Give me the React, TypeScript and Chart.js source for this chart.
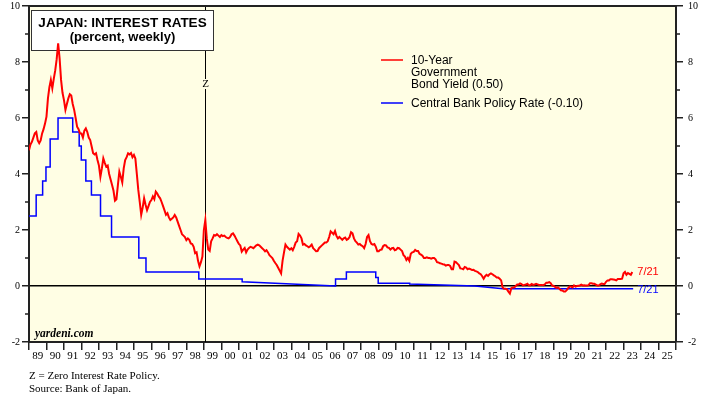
import React, { useEffect, useRef } from 'react';
import { Chart, registerables } from 'chart.js';

Chart.register(...registerables);

// ---------- data ----------
const yearLabels = ['89','90','91','92','93','94','95','96','97','98','99','00','01','02','03','04','05','06','07','08','09','10','11','12','13','14','15','16','17','18','19','20','21','22','23','24','25'];
const firstYear = 1989;
const lastYearEdge = 2026;
const minorTickValues = [-1, 1, 3, 5, 7, 9];

// 10-year JGB yield, monthly readings starting Jan 1989
const bondStartYear = 1989;
const bondYields = [
  4.85,5.05,5.15,5.3,5.45,5.5,5.2,5.1,5.2,5.45,5.6,5.8,      // 1989
  6.05,6.7,7.1,7.36,7.06,7.4,7.7,8.1,8.67,8.13,7.36,6.9,     // 1990
  6.64,6.29,6.5,6.7,6.85,6.8,6.5,6.29,6.0,5.69,5.6,5.45,     // 1991
  5.45,5.3,5.55,5.63,5.5,5.3,5.21,4.98,4.74,4.7,4.74,4.5,    // 1992
  4.3,3.9,4.2,4.56,4.4,4.26,4.3,4.0,3.8,3.61,3.4,3.05,       // 1993
  3.1,3.6,4.08,3.9,3.7,4.2,4.5,4.6,4.74,4.7,4.75,4.6,        // 1994
  4.68,4.55,4.0,3.43,3.0,2.54,2.8,3.13,2.9,2.71,2.85,3.0,    // 1995
  3.07,3.2,3.1,3.37,3.3,3.2,3.13,3.0,2.85,2.7,2.54,2.6,      // 1996
  2.45,2.36,2.4,2.45,2.54,2.45,2.3,2.15,2.0,1.85,1.8,1.75,   // 1997
  1.64,1.7,1.65,1.52,1.5,1.4,1.17,1.2,0.9,0.7,0.85,1.05,     // 1998
  2.0,2.36,1.7,1.3,1.25,1.6,1.7,1.82,1.8,1.85,1.8,1.75,      // 1999
  1.82,1.78,1.8,1.75,1.72,1.7,1.75,1.85,1.88,1.8,1.7,1.6,    // 2000
  1.5,1.45,1.23,1.3,1.36,1.2,1.3,1.36,1.4,1.38,1.35,1.4,     // 2001
  1.45,1.48,1.45,1.4,1.35,1.3,1.24,1.28,1.2,1.1,1.05,1.0,    // 2002
  0.9,0.82,0.75,0.65,0.55,0.45,0.9,1.2,1.48,1.4,1.35,1.3,    // 2003
  1.35,1.28,1.4,1.55,1.6,1.86,1.8,1.7,1.48,1.5,1.45,1.42,    // 2004
  1.38,1.42,1.48,1.35,1.3,1.24,1.25,1.35,1.4,1.45,1.5,1.55,  // 2005
  1.55,1.6,1.75,1.95,1.9,1.85,1.96,1.79,1.7,1.75,1.7,1.65,   // 2006
  1.7,1.73,1.65,1.68,1.75,1.92,1.88,1.7,1.6,1.55,1.48,1.5,   // 2007
  1.45,1.42,1.35,1.5,1.75,1.82,1.6,1.5,1.48,1.5,1.4,1.24,    // 2008
  1.24,1.29,1.3,1.42,1.46,1.45,1.38,1.36,1.3,1.35,1.36,1.28, // 2009
  1.3,1.36,1.35,1.3,1.25,1.1,1.05,0.93,1.0,0.9,1.15,1.2,     // 2010
  1.22,1.29,1.25,1.25,1.15,1.12,1.08,1.0,1.0,1.02,1.0,1.0,   // 2011
  0.98,1.0,1.0,0.95,0.85,0.84,0.81,0.8,0.78,0.77,0.73,0.75,  // 2012
  0.75,0.72,0.6,0.6,0.87,0.85,0.8,0.75,0.63,0.62,0.6,0.68,   // 2013
  0.66,0.6,0.62,0.6,0.57,0.58,0.54,0.52,0.5,0.45,0.42,0.35,  // 2014
  0.26,0.35,0.4,0.36,0.42,0.45,0.42,0.38,0.35,0.3,0.3,0.26,  // 2015
  0.2,-0.05,-0.1,-0.1,-0.12,-0.2,-0.27,-0.08,-0.05,-0.05,0.0,0.05, // 2016
  0.05,0.09,0.07,0.02,0.04,0.05,0.08,0.03,0.03,0.07,0.04,0.05, // 2017
  0.08,0.06,0.04,0.04,0.04,0.03,0.06,0.12,0.12,0.14,0.1,0.02,  // 2018
  0.0,-0.03,-0.07,-0.05,-0.1,-0.15,-0.16,-0.2,-0.2,-0.15,-0.08,-0.02, // 2019
  -0.02,-0.05,0.02,-0.02,0.0,0.01,0.02,0.05,0.02,0.03,0.02,0.02, // 2020
  0.03,0.1,0.1,0.08,0.08,0.05,0.02,0.02,0.06,0.09,0.07,0.07,   // 2021
  0.15,0.2,0.2,0.24,0.24,0.23,0.22,0.2,0.25,0.25,0.25,0.26,    // 2022
  0.45,0.5,0.4,0.46,0.43,0.4,0.5                               // 2023
];

// Central bank policy rate (decimal-year dates, values)
const policyDates = [1989.0, 1989.41, 1989.41, 1989.78, 1989.78, 1989.97, 1989.97, 1990.21, 1990.21, 1990.66, 1990.66, 1991.5, 1991.5, 1991.87, 1991.87, 1991.99, 1991.99, 1992.25, 1992.25, 1992.57, 1992.57, 1993.09, 1993.09, 1993.72, 1993.72, 1995.28, 1995.28, 1995.69, 1995.69, 1998.71, 1998.71, 2001.19, 2001.19, 2006.53, 2006.53, 2007.15, 2007.15, 2008.83, 2008.83, 2008.97, 2008.97, 2010.77, 2010.77, 2014.5, 2016.1, 2023.55];
const policyRates = [2.5, 2.5, 3.25, 3.25, 3.75, 3.75, 4.25, 4.25, 5.25, 5.25, 6.0, 6.0, 5.5, 5.5, 5.0, 5.0, 4.5, 4.5, 3.75, 3.75, 3.25, 3.25, 2.5, 2.5, 1.75, 1.75, 1.0, 1.0, 0.5, 0.5, 0.25, 0.25, 0.15, 0.0, 0.25, 0.25, 0.5, 0.5, 0.3, 0.3, 0.1, 0.1, 0.07, 0.0, -0.1, -0.1];

const zirpDate = 1999.06;
const endLabel = '7/21';
const titleLines = ['JAPAN: INTEREST RATES', '(percent, weekly)'];
const legendBond = ['10-Year', 'Government', 'Bond Yield (0.50)'];
const legendPolicy = 'Central Bank Policy Rate (-0.10)';
const footnotes = ['Z = Zero Interest Rate Policy.', 'Source: Bank of Japan.'];
const credit = 'yardeni.com';

// ---------- styles ----------
const W = 713;
const H = 399;
const PLOT_BG = '#FFFEE4';
const RED = '#FF0000';
const BLUE = '#0000FF';
const AXIS = '#222222';
const SERIF = "'Liberation Serif', 'Times New Roman', serif";
const SANS = "'Liberation Sans', Arial, sans-serif";

const decor = {
  id: 'decor',
  beforeDraw(chart: any) {
    const { ctx, chartArea: a } = chart;
    ctx.save();
    ctx.fillStyle = '#ffffff';
    ctx.fillRect(0, 0, chart.width, chart.height);
    ctx.fillStyle = PLOT_BG;
    ctx.fillRect(a.left, a.top, a.right - a.left, a.bottom - a.top);
    ctx.restore();
  },
  beforeDatasetsDraw(chart: any) {
    const { ctx, chartArea: a } = chart;
    const x = chart.scales.x;
    const y = chart.scales.y;
    ctx.save();
    // short minor ticks at odd values, both sides
    ctx.strokeStyle = AXIS;
    ctx.lineWidth = 1.5;
    ctx.beginPath();
    minorTickValues.forEach((v) => {
      const py = Math.round(y.getPixelForValue(v));
      ctx.moveTo(a.left - 4, py);
      ctx.lineTo(a.left, py);
      ctx.moveTo(a.right, py);
      ctx.lineTo(a.right + 4, py);
    });
    ctx.stroke();

    // ZIRP line and label
    const zx = Math.round(x.getPixelForValue(zirpDate)) + 0.5;
    ctx.strokeStyle = '#000';
    ctx.lineWidth = 1;
    ctx.beginPath();
    ctx.moveTo(zx, a.top);
    ctx.lineTo(zx, a.bottom);
    ctx.stroke();
    const zy = a.top + 78;
    ctx.fillStyle = PLOT_BG;
    ctx.fillRect(zx - 4, zy - 5, 8, 10);
    ctx.font = `11px ${SERIF}`;
    ctx.fillStyle = '#000';
    ctx.textAlign = 'center';
    ctx.textBaseline = 'middle';
    ctx.fillText('Z', zx, zy);

    // title box (under the data lines)
    ctx.fillStyle = '#ffffff';
    ctx.fillRect(32, 10, 182, 40);
    ctx.strokeStyle = '#333';
    ctx.lineWidth = 1;
    ctx.strokeRect(31.5, 10.5, 182, 40);
    ctx.fillStyle = '#000';
    ctx.font = `bold 13.5px ${SANS}`;
    ctx.fillText(titleLines[0], 122.5, 23.5);
    ctx.font = `bold 13px ${SANS}`;
    ctx.fillText(titleLines[1], 122.5, 37.5);
    ctx.restore();
  },
  afterDraw(chart: any) {
    const { ctx, chartArea: a } = chart;
    const x = chart.scales.x;
    const y = chart.scales.y;
    ctx.save();
    // top frame
    ctx.strokeStyle = AXIS;
    ctx.lineWidth = 2;
    ctx.beginPath();
    ctx.moveTo(a.left - 1, a.top);
    ctx.lineTo(a.right + 1, a.top);
    ctx.stroke();

    // legend
    ctx.textAlign = 'left';
    ctx.textBaseline = 'middle';
    ctx.font = `12px ${SANS}`;
    ctx.lineWidth = 1.5;
    ctx.strokeStyle = RED;
    ctx.beginPath();
    ctx.moveTo(381, 60);
    ctx.lineTo(403, 60);
    ctx.stroke();
    ctx.fillStyle = '#000';
    legendBond.forEach((t, i) => ctx.fillText(t, 411, 60.5 + i * 12));
    ctx.strokeStyle = BLUE;
    ctx.beginPath();
    ctx.moveTo(381, 103);
    ctx.lineTo(403, 103);
    ctx.stroke();
    ctx.fillText(legendPolicy, 411, 103.5);

    // end labels
    ctx.font = `11px ${SANS}`;
    const bLast = bondYields.length - 1;
    const bx = x.getPixelForValue(bondStartYear + bLast / 12);
    ctx.fillStyle = RED;
    ctx.fillText(endLabel, bx + 5, y.getPixelForValue(bondYields[bLast]));
    const pLast = policyDates.length - 1;
    ctx.fillStyle = BLUE;
    ctx.fillText(endLabel, x.getPixelForValue(policyDates[pLast]) + 4, y.getPixelForValue(policyRates[pLast]) + 1);

    // credit
    ctx.fillStyle = '#000';
    ctx.font = `bold italic 11.5px ${SERIF}`;
    ctx.fillText(credit, 35, a.bottom - 8);

    // footnotes
    ctx.font = `11px ${SERIF}`;
    footnotes.forEach((t, i) => ctx.fillText(t, 29, 376.5 + i * 12.5));
    ctx.restore();
  },
};

const majorTickColor = (c: any) => (c.tick && Number(c.tick.value) % 2 === 0 ? AXIS : 'rgba(0,0,0,0)');
const fitY = (width: number) => (s: any) => {
  s.width = width;
  s.paddingTop = 0;
  s.paddingBottom = 0;
};

export default function App() {
  const ref = useRef<HTMLCanvasElement | null>(null);
  useEffect(() => {
    if (!ref.current) return;
    const bondData = bondYields.map((v, i) => ({ x: bondStartYear + i / 12, y: v }));
    const policyData = policyDates.map((d, i) => ({ x: d, y: policyRates[i] }));
    const yTickFont = { family: SERIF, size: 10 };
    const chart = new Chart(ref.current, {
      type: 'line',
      data: {
        datasets: [
          {
            label: '10-Year Government Bond Yield',
            data: bondData,
            borderColor: RED,
            borderWidth: 2,
            pointRadius: 0,
            tension: 0,
            order: 0,
          },
          {
            label: 'Central Bank Policy Rate',
            data: policyData,
            borderColor: BLUE,
            borderWidth: 1.5,
            pointRadius: 0,
            tension: 0,
            order: 1,
          },
        ],
      },
      options: {
        responsive: false,
        animation: false,
        devicePixelRatio: 1,
        layout: { padding: { top: 6, left: 0, right: 0, bottom: 0 } },
        plugins: { legend: { display: false }, tooltip: { enabled: false } },
        scales: {
          x: {
            type: 'linear',
            position: 'bottom',
            min: firstYear,
            max: lastYearEdge,
            afterFit: (s: any) => { s.height = 57; s.paddingLeft = 0; s.paddingRight = 0; },
            ticks: {
              stepSize: 1,
              maxTicksLimit: 60,
              autoSkip: false,
              maxRotation: 0,
              minRotation: 0,
              labelOffset: 8.75,
              padding: 0,
              color: '#000',
              font: { family: SERIF, size: 11 },
              callback: (_v: any, i: number) => yearLabels[i] ?? '',
            },
            grid: { drawOnChartArea: false, tickLength: 8, tickColor: AXIS, lineWidth: 1.5 },
            border: { display: true, color: AXIS, width: 2 },
          },
          y: {
            type: 'linear',
            position: 'left',
            min: -2,
            max: 10,
            afterFit: fitY(29),
            ticks: {
              stepSize: 1,
              autoSkip: false,
              padding: 2,
              color: '#000',
              font: yTickFont,
              callback: (v: any) => (Number(v) % 2 === 0 ? String(v) : ''),
            },
            grid: {
              drawOnChartArea: true,
              color: (c: any) => (c.tick && c.tick.value === 0 ? '#000' : 'rgba(0,0,0,0)'),
              tickColor: majorTickColor,
              tickLength: 7,
              lineWidth: 1.5,
            },
            border: { display: true, color: AXIS, width: 2 },
          },
          y2: {
            type: 'linear',
            position: 'right',
            min: -2,
            max: 10,
            afterFit: fitY(37),
            ticks: {
              stepSize: 1,
              autoSkip: false,
              padding: 5,
              color: '#000',
              font: yTickFont,
              callback: (v: any) => (Number(v) % 2 === 0 ? String(v) : ''),
            },
            grid: { drawOnChartArea: false, tickColor: majorTickColor, tickLength: 7, lineWidth: 1.5 },
            border: { display: true, color: AXIS, width: 2 },
          },
        },
      } as any,
      plugins: [decor],
    });
    return () => chart.destroy();
  }, []);

  return (
    <div style={{ position: 'fixed', left: 0, top: 0, width: W, height: H, background: '#fff' }}>
      <canvas ref={ref} width={W} height={H} style={{ display: 'block', width: W, height: H }} />
    </div>
  );
}
